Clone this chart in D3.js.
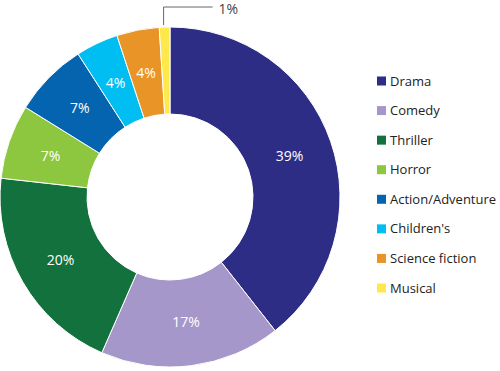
<!DOCTYPE html>
<html>
<head>
<meta charset="utf-8">
<script src="https://cdn.jsdelivr.net/npm/d3@7"></script>
<style>
  html, body { margin: 0; padding: 0; background: #fff; }
  svg { display: block; font-family: "Open Sans", sans-serif; }
</style>
</head>
<body>
<div id="chart"></div>
<script>
// genre share donut
const genres = ['Drama','Comedy','Thriller','Horror','Action/Adventure',"Children's",'Science fiction','Musical'];
const shares = [39, 17, 20, 7, 7, 4, 4, 1];
const colors = ['#2e2d86','#a597c9','#12713c','#8dc63f','#0464b0','#00bef2','#e99427','#ffe94a'];

const width = 500, height = 371;
const cx = 170, cy = 197, outerR = 170, innerR = 83;

const svg = d3.select('#chart').append('svg')
  .attr('width', width)
  .attr('height', height);

const data = genres.map((g,i)=>({genre:g, value:shares[i], color:colors[i]}));
const pie = d3.pie().value(d=>d.value).sort(null);
const arc = d3.arc().innerRadius(innerR).outerRadius(outerR);
const labelArc = d3.arc().innerRadius((innerR+outerR)/2).outerRadius((innerR+outerR)/2);

const g = svg.append('g').attr('transform', `translate(${cx},${cy})`);
const arcs = pie(data);

g.selectAll('path.slice')
  .data(arcs)
  .join('path')
  .attr('class','slice')
  .attr('d', arc)
  .attr('fill', d=>d.data.color)
  .attr('stroke','#fff')
  .attr('stroke-width',1);

// inside labels (skip the tiny one)
g.selectAll('text.pct')
  .data(arcs.filter(d=>d.data.value > 1))
  .join('text')
  .attr('class','pct')
  .attr('transform', d=>`translate(${labelArc.centroid(d)})`)
  .attr('text-anchor','middle')
  .attr('dy','0.35em')
  .attr('fill','#fff')
  .style('font-size','14px')
  .text(d=>d.data.value + '%');

// leader for the small slice
const small = arcs.filter(d=>d.data.value <= 1);
small.forEach(d=>{
  const mid = (d.startAngle + d.endAngle)/2;
  const x0 = Math.sin(mid)*outerR - 1;
  const y0 = -Math.cos(mid)*outerR;
  const yTop = -cy + 7;
  g.append('path')
    .attr('d', `M${x0},${y0 - 2}V${yTop}H${x0 + 49}`)
    .attr('fill','none')
    .attr('stroke','#666')
    .attr('stroke-width',1);
  g.append('text')
    .attr('x', x0 + 55)
    .attr('y', yTop + 2)
    .attr('dy','0.35em')
    .attr('fill','#444')
    .style('font-size','14px')
    .text(d.data.value + '%');
});

// legend
const legendY = d3.scalePoint().domain(genres).range([81, 288]);
const legend = svg.append('g').attr('class','legend');
const items = legend.selectAll('g.item')
  .data(data)
  .join('g')
  .attr('class','item')
  .attr('transform', d=>`translate(377,${legendY(d.genre)})`);
items.append('rect')
  .attr('x',0).attr('y',-4.5)
  .attr('width',9).attr('height',9)
  .attr('fill', d=>d.color);
items.append('text')
  .attr('x',13)
  .attr('dy','0.35em')
  .attr('fill','#222')
  .style('font-size','13px')
  .text(d=>d.genre);
</script>
</body>
</html>
